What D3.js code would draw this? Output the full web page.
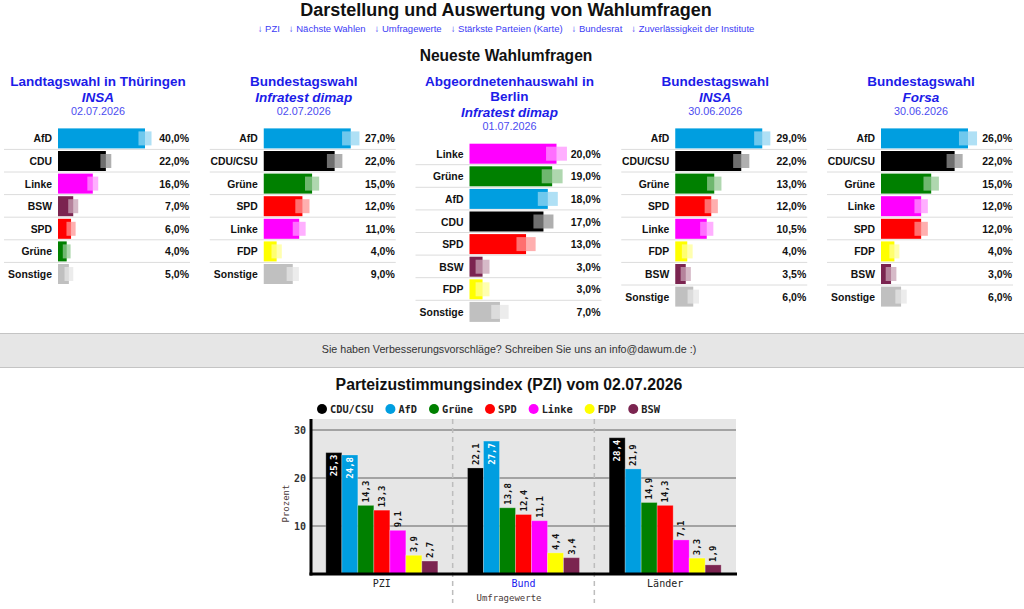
<!DOCTYPE html>
<html>
<head>
<meta charset="utf-8">
<script src="https://cdn.jsdelivr.net/npm/d3@7"></script>
<style>
  body { margin: 0; background: #fff; }
  svg { display: block; }
</style>
</head>
<body>
<div id="page"></div>
<script>
// Wahlumfragen overview (dawum style)
const width = 1024;
const height = 609;

// --- newest polls ---
const panelTitles = [
    ["Landtagswahl in Thüringen"],
    ["Bundestagswahl"],
    ["Abgeordnetenhauswahl in", "Berlin"],
    ["Bundestagswahl"],
    ["Bundestagswahl"]
];
const institutes = ["INSA", "Infratest dimap", "Infratest dimap", "INSA", "Forsa"];
const pollDates = ["02.07.2026", "02.07.2026", "01.07.2026", "30.06.2026", "30.06.2026"];
const pollParties = [
    ["AfD", "CDU", "Linke", "BSW", "SPD", "Grüne", "Sonstige"],
    ["AfD", "CDU/CSU", "Grüne", "SPD", "Linke", "FDP", "Sonstige"],
    ["Linke", "Grüne", "AfD", "CDU", "SPD", "BSW", "FDP", "Sonstige"],
    ["AfD", "CDU/CSU", "Grüne", "SPD", "Linke", "FDP", "BSW", "Sonstige"],
    ["AfD", "CDU/CSU", "Grüne", "Linke", "SPD", "FDP", "BSW", "Sonstige"]
];
const pollValues = [
    [40, 22, 16, 7, 6, 4, 5],
    [27, 22, 15, 12, 11, 4, 9],
    [20, 19, 18, 17, 13, 3, 3, 7],
    [29, 22, 13, 12, 10.5, 4, 3.5, 6],
    [26, 22, 15, 12, 12, 4, 3, 6]
];
// half width of the pale margin box around each bar end (percent points)
const pollMargins = [
    [3.0, 2.5, 2.5, 2.3, 2.1, 1.8, 2.0],
    [2.7, 2.4, 2.2, 2.2, 2.0, 1.6, 1.9],
    [2.4, 2.4, 2.3, 2.3, 2.2, 1.6, 1.6, 2.0],
    [2.7, 2.7, 2.4, 2.2, 2.2, 1.8, 1.7, 1.9],
    [2.7, 2.4, 2.3, 2.0, 2.0, 1.5, 1.6, 1.7]
];

// --- PZI chart ---
const pziGroups = ["PZI", "Bund", "Länder"];
const pziParties = ["CDU/CSU", "AfD", "Grüne", "SPD", "Linke", "FDP", "BSW"];
const pziIndex = [25.3, 24.8, 14.3, 13.3, 9.1, 3.9, 2.7];
const pziBund = [22.1, 27.7, 13.8, 12.4, 11.1, 4.4, 3.4];
const pziLaender = [28.4, 21.9, 14.9, 14.3, 7.1, 3.3, 1.9];
const pziTicks = [10, 20, 30];

const navLinks = ["PZI", "Nächste Wahlen", "Umfragewerte", "Stärkste Parteien (Karte)", "Bundesrat", "Zuverlässigkeit der Institute"];

const partyColors = {
    "AfD": "#009ee0", "CDU": "#000000", "CDU/CSU": "#000000", "Linke": "#ff00ff",
    "BSW": "#7b2450", "SPD": "#ff0000", "Grüne": "#008000", "FDP": "#ffff00",
    "Sonstige": "#c0c0c0"
};

const sans = "'Liberation Sans', Arial, sans-serif";
const mono = "'DejaVu Sans Mono', monospace";

const svg = d3.select("#page").append("svg")
    .attr("width", width)
    .attr("height", height)
    .style("font-family", sans);

// header
svg.append("text")
    .attr("x", 506).attr("y", 16)
    .attr("text-anchor", "middle")
    .style("font-size", "18px").style("font-weight", "bold").style("fill", "#111")
    .text("Darstellung und Auswertung von Wahlumfragen");

const nav = svg.append("g").style("font-size", "9.5px").style("fill", "#3c3cf5");
const navItems = nav.selectAll("text")
    .data(navLinks)
    .join("text")
    .attr("y", 32)
    .text(d => "↓ " + d);
let navW = [];
navItems.each(function() { navW.push(this.getComputedTextLength()); });
const navGap = 9;
const navTotal = d3.sum(navW) + navGap * (navW.length - 1);
let nx = 506 - navTotal / 2;
navItems.attr("x", (d, i) => {
    const x = nx;
    nx += navW[i] + navGap;
    return x;
});

svg.append("text")
    .attr("x", 506).attr("y", 61)
    .attr("text-anchor", "middle")
    .style("font-size", "15.6px").style("font-weight", "bold").style("fill", "#111")
    .text("Neueste Wahlumfragen");

// poll panels
const rowPitch = 22.6;
pollValues.forEach((values, p) => {
    const valueRight = 189 + 205.75 * p;
    const barStart = valueRight - 131;
    const center = valueRight - 91;
    const titleLines = panelTitles[p];
    const extra = (titleLines.length - 1) * 15.3;

    const g = svg.append("g");

    titleLines.forEach((line, i) => {
        g.append("text")
            .attr("x", center).attr("y", 86 + i * 15.3)
            .attr("text-anchor", "middle")
            .style("font-size", "13.5px").style("font-weight", "bold").style("fill", "#1c1ce8")
            .text(line);
    });
    g.append("text")
        .attr("x", center).attr("y", 102 + extra)
        .attr("text-anchor", "middle")
        .style("font-size", "13.5px").style("font-weight", "bold").style("font-style", "italic")
        .style("fill", "#1c1ce8")
        .text(institutes[p]);
    g.append("text")
        .attr("x", center).attr("y", 115 + extra)
        .attr("text-anchor", "middle")
        .style("font-size", "10.8px").style("fill", "#4b4bf0")
        .text(pollDates[p]);

    const parties = pollParties[p];
    const top = 127.4 + extra;
    const y = d3.scaleBand()
        .domain(d3.range(values.length))
        .range([top, top + rowPitch * values.length]);
    const x = d3.scaleLinear()
        .domain([0, d3.max(values)])
        .range([barStart, barStart + 87]);

    const rows = g.selectAll("g.row")
        .data(values.map((v, i) => ({ v, party: parties[i], m: pollMargins[p][i], i })))
        .join("g")
        .attr("class", "row");

    // separators between rows
    rows.filter(d => d.i < values.length - 1)
        .append("line")
        .attr("x1", valueRight - 185).attr("x2", valueRight + 1)
        .attr("y1", d => y(d.i) + 22).attr("y2", d => y(d.i) + 22)
        .attr("stroke", "#dcdcdc").attr("stroke-width", 1);

    rows.append("rect")
        .attr("x", x(0))
        .attr("y", d => y(d.i) + 1)
        .attr("width", d => x(d.v) - x(0))
        .attr("height", 20)
        .attr("fill", d => partyColors[d.party]);

    rows.append("rect")
        .attr("x", d => x(d.v - d.m))
        .attr("y", d => y(d.i) + 4)
        .attr("width", d => x(d.v + d.m) - x(d.v - d.m))
        .attr("height", 14)
        .attr("fill", d => d3.interpolateRgb(partyColors[d.party], "#ffffff")(0.58))
        .attr("opacity", 0.75);

    rows.append("text")
        .attr("x", barStart - 6)
        .attr("y", d => y(d.i) + 15)
        .attr("text-anchor", "end")
        .style("font-size", "10.4px").style("font-weight", "bold").style("fill", "#111")
        .text(d => d.party);

    rows.append("text")
        .attr("x", valueRight)
        .attr("y", d => y(d.i) + 15)
        .attr("text-anchor", "end")
        .style("font-size", "10.5px").style("font-weight", "bold").style("fill", "#111")
        .text(d => d.v.toFixed(1).replace(".", ",") + "%");
});

// feedback band
svg.append("rect")
    .attr("x", -1).attr("y", 333.5).attr("width", width + 2).attr("height", 34)
    .attr("fill", "#e6e6e6").attr("stroke", "#c4c4c4");
svg.append("text")
    .attr("x", 509).attr("y", 353)
    .attr("text-anchor", "middle")
    .style("font-size", "10.7px").style("fill", "#333")
    .text("Sie haben Verbesserungsvorschläge? Schreiben Sie uns an info@dawum.de :)");

// PZI chart
svg.append("text")
    .attr("x", 509).attr("y", 390)
    .attr("text-anchor", "middle")
    .style("font-size", "15.8px").style("font-weight", "bold").style("fill", "#111")
    .text("Parteizustimmungsindex (PZI) vom 02.07.2026");

const plot = { left: 311, right: 736, top: 419, bottom: 574 };
const x0 = d3.scaleBand().domain(pziGroups).range([plot.left, plot.right]);
const barsW = 112;
const x1 = d3.scaleBand().domain(pziParties)
    .range([(x0.bandwidth() - barsW) / 2, (x0.bandwidth() + barsW) / 2]);
const yP = d3.scaleLinear().domain([0, 32.3]).range([plot.bottom, plot.top]);

svg.append("rect")
    .attr("x", plot.left).attr("y", plot.top)
    .attr("width", plot.right - plot.left).attr("height", plot.bottom - plot.top)
    .attr("fill", "#e6e6e6");

svg.append("g")
    .selectAll("line")
    .data(pziTicks)
    .join("line")
    .attr("x1", plot.left).attr("x2", plot.right)
    .attr("y1", d => yP(d)).attr("y2", d => yP(d))
    .attr("stroke", "#8c8c8c").attr("stroke-width", 1.5);

// dashed group separators
svg.append("g")
    .selectAll("line")
    .data(pziGroups.slice(1))
    .join("line")
    .attr("x1", d => x0(d)).attr("x2", d => x0(d))
    .attr("y1", plot.top).attr("y2", 603)
    .attr("stroke", "#bdbdbd").attr("stroke-width", 1.5)
    .attr("stroke-dasharray", "5,4");

const pziData = [pziIndex, pziBund, pziLaender];
const groups = svg.append("g")
    .selectAll("g")
    .data(pziGroups)
    .join("g")
    .attr("transform", d => `translate(${x0(d)},0)`);

const bars = groups.selectAll("g")
    .data((g, gi) => pziParties.map((party, i) => ({ party, v: pziData[gi][i] })))
    .join("g");

bars.append("rect")
    .attr("x", d => x1(d.party))
    .attr("y", d => yP(d.v))
    .attr("width", x1.bandwidth())
    .attr("height", d => yP(0) - yP(d.v))
    .attr("fill", d => partyColors[d.party])
    .attr("stroke", "rgba(255,255,255,0.25)")
    .attr("stroke-width", 1);

bars.append("text")
    .attr("transform", d => {
        const cx = x1(d.party) + x1.bandwidth() / 2;
        const cy = d.v > 24 ? yP(d.v) + 2 : yP(d.v) - 3;
        return `translate(${cx},${cy}) rotate(-90)`;
    })
    .attr("text-anchor", d => d.v > 24 ? "end" : "start")
    .attr("dy", "0.35em")
    .style("font-family", mono).style("font-size", "9px").style("font-weight", "bold")
    .style("fill", d => d.v > 24 ? "#fff" : "#111")
    .text(d => d.v.toFixed(1).replace(".", ","));

// axes lines
svg.append("line")
    .attr("x1", plot.left).attr("x2", plot.left)
    .attr("y1", plot.top).attr("y2", plot.bottom + 1.5)
    .attr("stroke", "#000").attr("stroke-width", 3);
svg.append("line")
    .attr("x1", plot.left - 1.5).attr("x2", plot.right + 1)
    .attr("y1", plot.bottom).attr("y2", plot.bottom)
    .attr("stroke", "#000").attr("stroke-width", 3);

svg.append("g")
    .selectAll("text")
    .data(pziTicks)
    .join("text")
    .attr("x", plot.left - 5)
    .attr("y", d => yP(d))
    .attr("dy", "0.35em")
    .attr("text-anchor", "end")
    .style("font-family", mono).style("font-size", "10px").style("font-weight", "bold")
    .style("fill", "#333")
    .text(d => d);

svg.append("g")
    .selectAll("text")
    .data(pziGroups)
    .join("text")
    .attr("x", d => x0(d) + x0.bandwidth() / 2)
    .attr("y", 587)
    .attr("text-anchor", "middle")
    .style("font-family", mono).style("font-size", "10px")
    .style("fill", d => d === "Bund" ? "#2020ee" : "#222")
    .text(d => d);

svg.append("text")
    .attr("x", 509).attr("y", 601)
    .attr("text-anchor", "middle")
    .style("font-family", mono).style("font-size", "9px").style("fill", "#4a3a3a")
    .text("Umfragewerte");

svg.append("text")
    .attr("transform", `translate(${289},${(plot.top + plot.bottom) / 2 + 7}) rotate(-90)`)
    .attr("text-anchor", "middle")
    .style("font-family", mono).style("font-size", "9px").style("fill", "#4a3a3a")
    .text("Prozent");

// legend
const legend = svg.append("g")
    .style("font-family", mono).style("font-size", "10.3px").style("font-weight", "bold");
let lx = 317;
pziParties.forEach(party => {
    legend.append("circle")
        .attr("cx", lx + 5).attr("cy", 409).attr("r", 5)
        .attr("fill", partyColors[party]);
    const t = legend.append("text")
        .attr("x", lx + 13).attr("y", 409)
        .attr("dy", "0.35em")
        .style("fill", "#222")
        .text(party);
    lx += 13 + t.node().getComputedTextLength() + 12;
});
</script>
</body>
</html>
